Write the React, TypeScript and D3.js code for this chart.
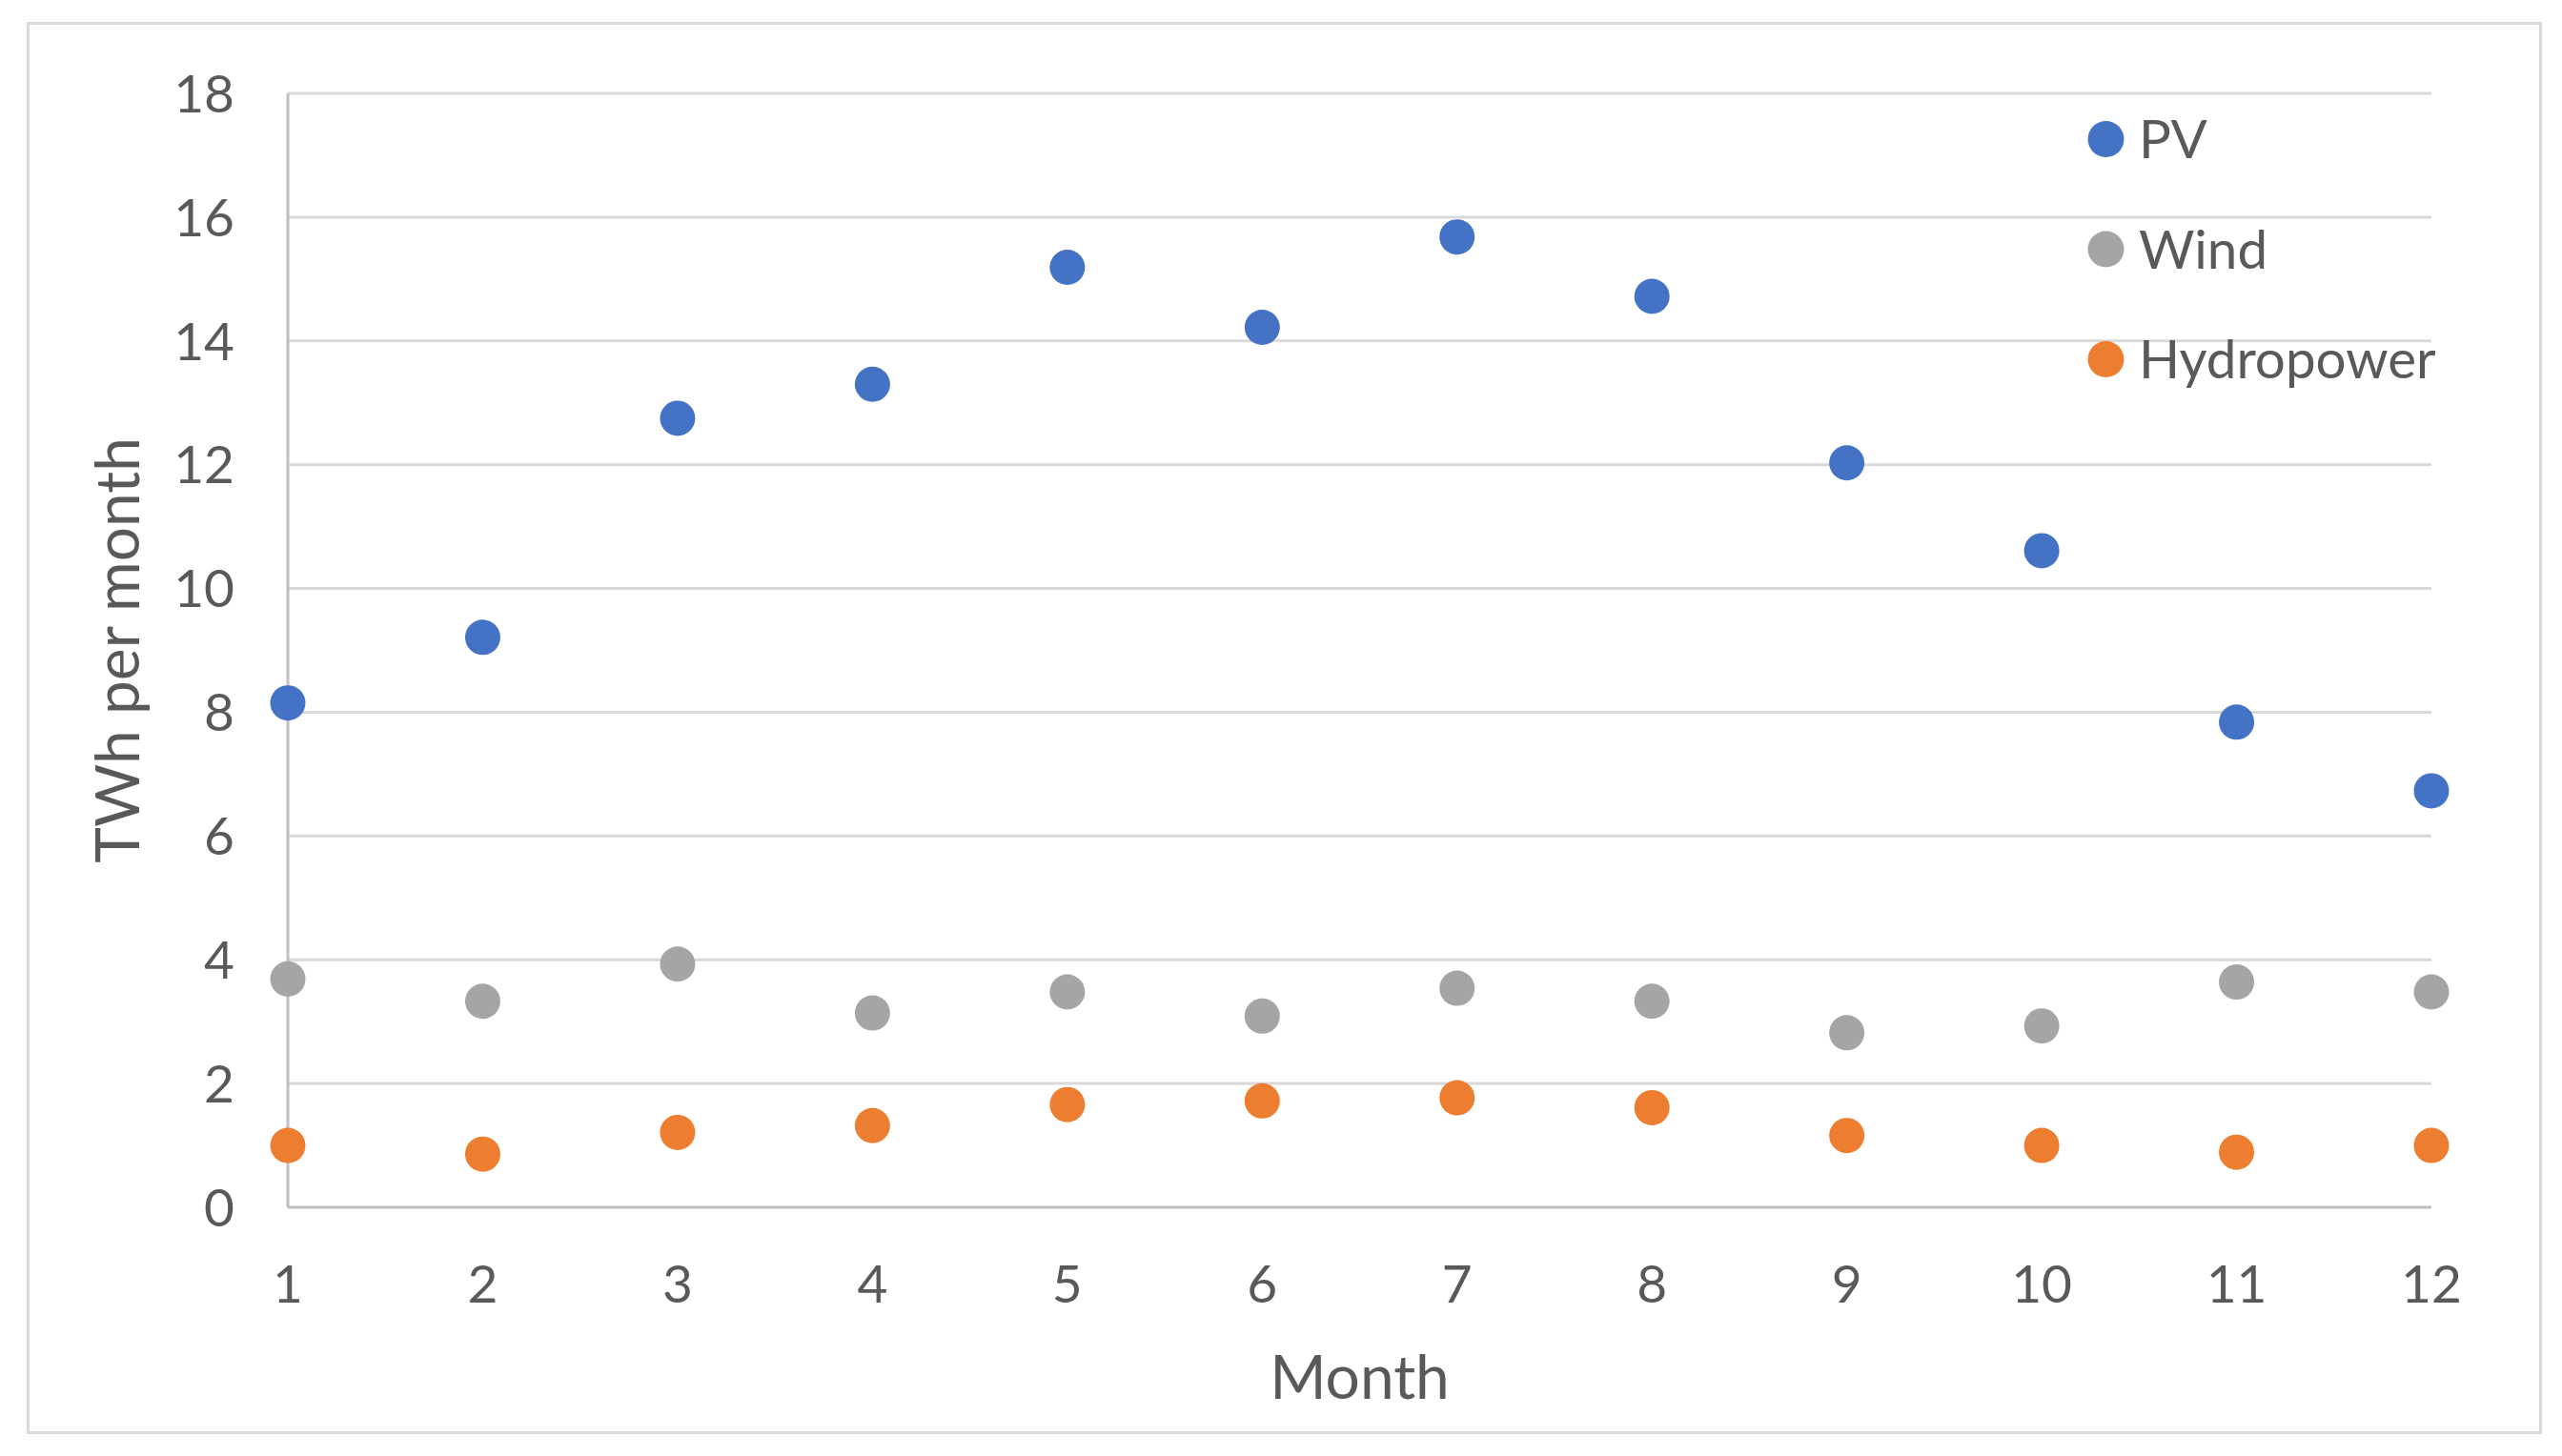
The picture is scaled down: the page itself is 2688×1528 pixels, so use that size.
import React from "react";
import * as d3 from "d3";

const months = [1, 2, 3, 4, 5, 6, 7, 8, 9, 10, 11, 12];
const pvValues = [8.15, 9.21, 12.75, 13.3, 15.19, 14.22, 15.68, 14.72, 12.03, 10.61, 7.84, 6.73];
const windValues = [3.69, 3.33, 3.93, 3.14, 3.48, 3.09, 3.54, 3.33, 2.82, 2.93, 3.64, 3.48];
const hydroValues = [1.0, 0.86, 1.21, 1.32, 1.66, 1.72, 1.77, 1.61, 1.16, 1.0, 0.89, 1.0];
const yTicks = [0, 2, 4, 6, 8, 10, 12, 14, 16, 18];
const seriesNames = ["PV", "Wind", "Hydropower"];
const seriesColors = ["#4472C4", "#A5A5A5", "#ED7D31"];

const W = 2688;
const H = 1528;
const FONT = "Lato, 'Open Sans', sans-serif";
const TEXT = "#595959";

export default function App() {
  const x = d3.scaleLinear().domain([1, 12]).range([302, 2551]);
  const y = d3.scaleLinear().domain([0, 18]).range([1267, 98]);
  const series = [pvValues, windValues, hydroValues];
  const legendY = d3.scalePoint<string>().domain(seriesNames).range([146, 377]);

  return (
    <div style={{ position: "absolute", left: 0, top: 0 }}>
      <svg width={W} height={H} style={{ display: "block" }}>
        <rect x={0} y={0} width={W} height={H} fill="#fff" />
        <rect x={29.5} y={24.5} width={2636} height={1479} fill="#fff" stroke="#D9D9D9" strokeWidth={3} />
        {yTicks.filter((t) => t > 0).map((t) => (
          <line key={"g" + t} x1={x(1)} x2={x(12)} y1={y(t)} y2={y(t)} stroke="#D9D9D9" strokeWidth={3} />
        ))}
        <line x1={x(1)} x2={x(1)} y1={y(18)} y2={y(0)} stroke="#BFBFBF" strokeWidth={3} />
        <line x1={x(1)} x2={x(12)} y1={y(0)} y2={y(0)} stroke="#BFBFBF" strokeWidth={3} />
        {yTicks.map((t) => (
          <text key={"yt" + t} x={246} y={y(t)} dy="0.36em" textAnchor="end" fontFamily={FONT} fontSize={55} fill={TEXT}>
            {t}
          </text>
        ))}
        {months.map((m) => (
          <text key={"xt" + m} x={x(m)} y={1347} dy="0.36em" textAnchor="middle" fontFamily={FONT} fontSize={55} fill={TEXT}>
            {m}
          </text>
        ))}
        <text x={(x(1) + x(12)) / 2} y={1468} textAnchor="middle" fontFamily={FONT} fontSize={64} fill={TEXT}>
          Month
        </text>
        <text
          transform={`translate(123, ${(y(0) + y(18)) / 2}) rotate(-90)`}
          dy="0.36em"
          textAnchor="middle"
          fontFamily={FONT}
          fontSize={64}
          fill={TEXT}
        >
          TWh per month
        </text>
        {series.map((vals, si) =>
          vals.map((v, i) => (
            <circle key={"p" + si + "-" + i} cx={x(months[i])} cy={y(v)} r={18.5} fill={seriesColors[si]} />
          ))
        )}
        {seriesNames.map((name, si) => (
          <g key={"l" + name}>
            <circle cx={2209.5} cy={legendY(name)} r={19} fill={seriesColors[si]} />
            <text x={2244} y={legendY(name)} dy="0.36em" fontFamily={FONT} fontSize={56.5} fill={TEXT}>
              {name}
            </text>
          </g>
        ))}
      </svg>
    </div>
  );
}
